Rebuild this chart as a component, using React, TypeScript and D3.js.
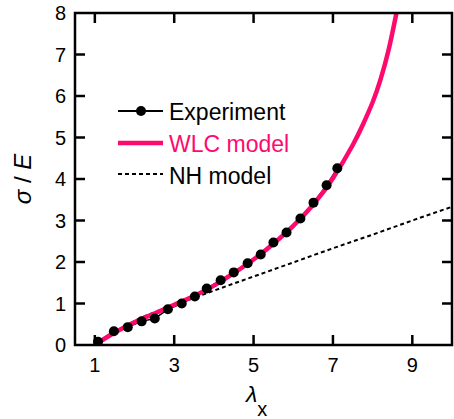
import { useEffect, useRef } from "react";
import * as d3 from "d3";

// chart size and plot box
const width = 454;
const height = 419;
const margin = { top: 13, right: 2, bottom: 74, left: 75 };

// experiment points (lambda_x, sigma/E)
const expX = [1.08, 1.48, 1.83, 2.18, 2.51, 2.84, 3.19, 3.52, 3.82, 4.17, 4.5, 4.85, 5.18, 5.5, 5.83, 6.18, 6.51, 6.84, 7.11];
const expY = [0.08, 0.33, 0.43, 0.57, 0.64, 0.86, 1.0, 1.17, 1.36, 1.56, 1.75, 1.97, 2.18, 2.47, 2.71, 3.05, 3.43, 3.85, 4.26];

// WLC model curve
const wlcX = [1.0, 1.5, 2.0, 2.5, 3.0, 3.5, 4.0, 4.5, 5.0, 5.5, 6.0, 6.5, 7.0, 7.5, 7.75, 8.0, 8.2, 8.4, 8.6];
const wlcY = [0.0, 0.3, 0.55, 0.76, 0.97, 1.18, 1.43, 1.73, 2.06, 2.44, 2.87, 3.38, 4.02, 4.82, 5.3, 5.85, 6.4, 7.1, 8.0];

// NH model line
const nhX = [1, 2, 3, 4, 5, 6, 7, 8, 9, 10];
const nhY = [0.0, 0.58, 0.96, 1.31, 1.65, 1.99, 2.33, 2.66, 3.0, 3.33];

const xTicks = [1, 3, 5, 7, 9];
const yTicks = [0, 1, 2, 3, 4, 5, 6, 7, 8];

const pink = "#fe0a6e";
const font = "Liberation Sans, Arial, sans-serif";

export default function App() {
  const ref = useRef<SVGSVGElement>(null);

  useEffect(() => {
    const svg = d3.select(ref.current);
    svg.selectAll("*").remove();

    const x = d3.scaleLinear().domain([0.5, 10]).range([margin.left, width - margin.right]);
    const y = d3.scaleLinear().domain([0, 8]).range([height - margin.bottom, margin.top]);

    // clip to the plot box
    svg.append("clipPath").attr("id", "plot")
      .append("rect")
      .attr("x", margin.left).attr("y", margin.top)
      .attr("width", width - margin.left - margin.right)
      .attr("height", height - margin.top - margin.bottom);

    const g = svg.append("g").attr("clip-path", "url(#plot)");

    const smooth = d3.line<[number, number]>()
      .x(d => x(d[0]))
      .y(d => y(d[1]))
      .curve(d3.curveNatural);

    // NH model (dashed)
    g.append("path")
      .attr("d", smooth(nhX.map((v, i) => [v, nhY[i]] as [number, number])))
      .attr("fill", "none")
      .attr("stroke", "#000")
      .attr("stroke-width", 2)
      .attr("stroke-dasharray", "4,3");

    // experiment line under the model curve
    const exp = expX.map((v, i) => [v, expY[i]] as [number, number]);
    g.append("path")
      .attr("d", d3.line<[number, number]>().x(d => x(d[0])).y(d => y(d[1]))(exp))
      .attr("fill", "none")
      .attr("stroke", "#000")
      .attr("stroke-width", 1.5);

    // WLC model
    g.append("path")
      .attr("d", smooth(wlcX.map((v, i) => [v, wlcY[i]] as [number, number])))
      .attr("fill", "none")
      .attr("stroke", pink)
      .attr("stroke-width", 4.5);

    g.selectAll("circle.exp")
      .data(exp)
      .join("circle")
      .attr("class", "exp")
      .attr("cx", d => x(d[0]))
      .attr("cy", d => y(d[1]))
      .attr("r", 5)
      .attr("fill", "#000");

    // frame
    const x0 = x.range()[0], x1 = x.range()[1];
    const y0 = y.range()[0], y1 = y.range()[1];
    svg.append("rect")
      .attr("x", x0).attr("y", y1)
      .attr("width", x1 - x0).attr("height", y0 - y1)
      .attr("fill", "none")
      .attr("stroke", "#000")
      .attr("stroke-width", 2.5);

    const tick = 10;
    // x ticks, bottom and top
    xTicks.forEach(t => {
      svg.append("line").attr("x1", x(t)).attr("x2", x(t)).attr("y1", y0).attr("y2", y0 - tick)
        .attr("stroke", "#000").attr("stroke-width", 2.5);
      svg.append("line").attr("x1", x(t)).attr("x2", x(t)).attr("y1", y1).attr("y2", y1 + tick)
        .attr("stroke", "#000").attr("stroke-width", 2.5);
      svg.append("text")
        .attr("x", x(t)).attr("y", y0 + 27)
        .attr("text-anchor", "middle")
        .attr("font-family", font).attr("font-size", 20)
        .text(t);
    });

    // y ticks, left and right
    yTicks.forEach(t => {
      if (t > 0 && t < 8) {
        svg.append("line").attr("x1", x0).attr("x2", x0 + tick).attr("y1", y(t)).attr("y2", y(t))
          .attr("stroke", "#000").attr("stroke-width", 2.5);
        svg.append("line").attr("x1", x1).attr("x2", x1 - tick).attr("y1", y(t)).attr("y2", y(t))
          .attr("stroke", "#000").attr("stroke-width", 2.5);
      }
      svg.append("text")
        .attr("x", x0 - 9).attr("y", y(t) + 7)
        .attr("text-anchor", "end")
        .attr("font-family", font).attr("font-size", 20)
        .text(t);
    });

    // axis titles
    const yl = svg.append("text")
      .attr("transform", `translate(31, ${(y0 + y1) / 2}) rotate(-90)`)
      .attr("text-anchor", "middle")
      .attr("font-family", font).attr("font-size", 24);
    yl.append("tspan").attr("font-style", "italic").text("σ");
    yl.append("tspan").text(" / ");
    yl.append("tspan").attr("font-style", "italic").text("E");

    const xl = svg.append("text")
      .attr("x", 246).attr("y", 402)
      .attr("font-family", font).attr("font-size", 23);
    xl.append("tspan").attr("font-style", "italic").text("λ");
    xl.append("tspan").attr("font-size", 20).attr("dy", 14).text("x");

    // legend
    const lg = svg.append("g").attr("font-family", font).attr("font-size", 23);
    lg.append("line").attr("x1", 118).attr("x2", 163).attr("y1", 111).attr("y2", 111)
      .attr("stroke", "#000").attr("stroke-width", 2);
    lg.append("circle").attr("cx", 141).attr("cy", 111).attr("r", 5).attr("fill", "#000");
    lg.append("text").attr("x", 169).attr("y", 120).text("Experiment");

    lg.append("line").attr("x1", 118).attr("x2", 163).attr("y1", 143).attr("y2", 143)
      .attr("stroke", pink).attr("stroke-width", 4.5);
    lg.append("text").attr("x", 169).attr("y", 152).attr("fill", pink).text("WLC model");

    lg.append("line").attr("x1", 118).attr("x2", 163).attr("y1", 174).attr("y2", 174)
      .attr("stroke", "#000").attr("stroke-width", 2).attr("stroke-dasharray", "4,3");
    lg.append("text").attr("x", 169).attr("y", 184).text("NH model");
  }, []);

  return (
    <div style={{ position: "fixed", left: 0, top: 0, background: "#fff" }}>
      <svg ref={ref} width={width} height={height} style={{ display: "block" }} />
    </div>
  );
}
